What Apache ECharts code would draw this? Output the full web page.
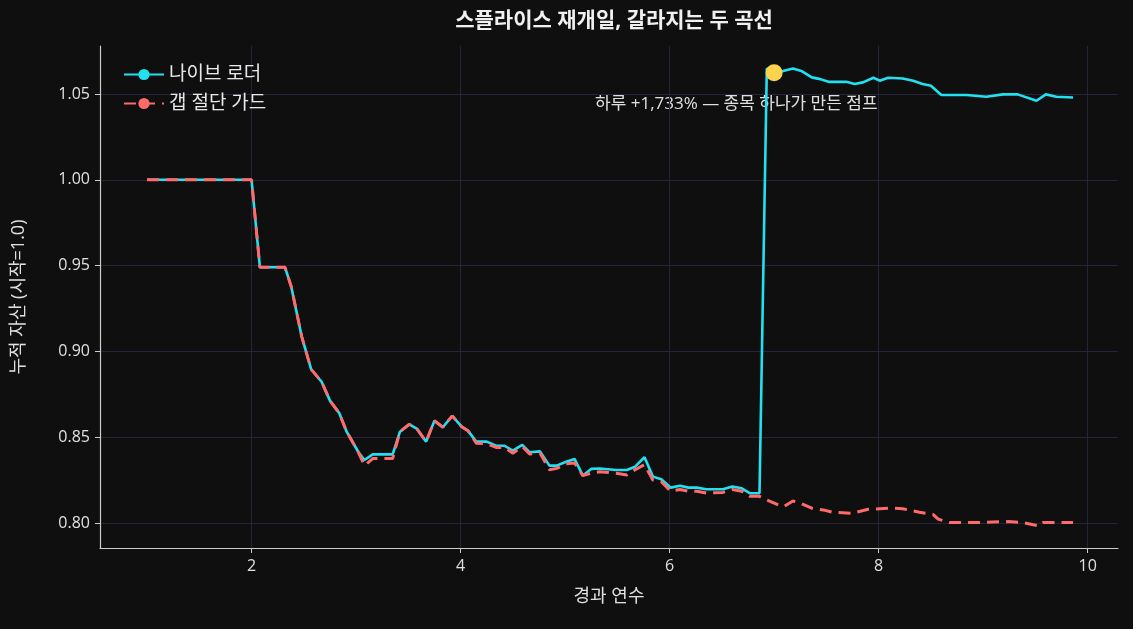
<!DOCTYPE html>
<html><head><meta charset="utf-8">
<script src="https://cdn.jsdelivr.net/npm/echarts@6/dist/echarts.min.js"></script>
<style>html,body{margin:0;background:#0f0f0f}#c{width:1133px;height:629px}</style>
</head><body><div id="c"></div>
<script>
const naiveX = [1.0,2.0,2.08,2.32,2.38,2.48,2.57,2.67,2.75,2.84,2.91,3.02,3.08,3.16,3.35,3.42,3.51,3.58,3.67,3.75,3.83,3.92,4.01,4.07,4.15,4.25,4.34,4.42,4.50,4.59,4.66,4.76,4.85,4.92,5.01,5.09,5.17,5.25,5.33,5.49,5.59,5.67,5.76,5.84,5.92,6.01,6.10,6.18,6.26,6.35,6.51,6.60,6.69,6.77,6.86,6.93,7.02,7.18,7.26,7.36,7.44,7.52,7.69,7.77,7.85,7.95,8.01,8.09,8.23,8.33,8.42,8.50,8.60,8.84,9.03,9.19,9.33,9.51,9.60,9.70,9.86];
const naiveY = [1.000,1.000,0.949,0.949,0.9377,0.9086,0.8896,0.8823,0.8713,0.8639,0.8532,0.8415,0.8367,0.840,0.840,0.8532,0.8575,0.855,0.8474,0.8596,0.8558,0.8624,0.8561,0.8538,0.8474,0.8474,0.845,0.845,0.8421,0.8455,0.8412,0.8417,0.8334,0.8334,0.8357,0.8373,0.8276,0.8315,0.8317,0.8309,0.8309,0.8328,0.8383,0.827,0.8255,0.8206,0.8217,0.8206,0.8206,0.8196,0.8196,0.8212,0.8202,0.8173,0.8173,1.0649,1.0624,1.0649,1.0635,1.0597,1.0587,1.0571,1.0571,1.0558,1.0568,1.0595,1.0578,1.0595,1.0591,1.0578,1.0558,1.0548,1.0494,1.0494,1.0484,1.0498,1.0498,1.0461,1.0498,1.0484,1.048];
const gapX = [1.0,2.0,2.08,2.32,2.38,2.48,2.57,2.67,2.75,2.84,2.91,3.02,3.08,3.16,3.35,3.42,3.51,3.58,3.67,3.75,3.83,3.92,4.01,4.07,4.15,4.25,4.34,4.42,4.50,4.59,4.66,4.76,4.85,4.92,5.01,5.09,5.17,5.25,5.33,5.49,5.59,5.67,5.76,5.84,5.92,6.01,6.10,6.18,6.26,6.35,6.51,6.60,6.69,6.77,6.86,6.93,7.04,7.09,7.18,7.24,7.36,7.47,7.56,7.75,7.90,8.12,8.23,8.39,8.52,8.57,8.68,8.90,9.24,9.38,9.53,9.57,9.86];
const gapY = [1.000,1.000,0.949,0.949,0.9377,0.9086,0.8896,0.8823,0.8713,0.8639,0.8532,0.8415,0.8335,0.8375,0.8375,0.8532,0.8575,0.855,0.8474,0.8596,0.8558,0.8624,0.8561,0.8538,0.8465,0.8462,0.844,0.844,0.8406,0.8445,0.8402,0.8407,0.831,0.8318,0.8345,0.835,0.8276,0.829,0.8298,0.829,0.828,0.831,0.834,0.825,0.824,0.8185,0.8195,0.8185,0.8185,0.8175,0.8178,0.8195,0.8185,0.8155,0.8155,0.8134,0.8105,0.8095,0.8128,0.8118,0.8086,0.8076,0.8062,0.8056,0.808,0.8086,0.8083,0.8062,0.805,0.8022,0.8002,0.8002,0.8008,0.8002,0.7983,0.8002,0.8002];
const jumpPoint = [7.0, 1.0624];
const xTicks = [2,4,6,8,10];
const yTicks = [0.80,0.85,0.90,0.95,1.00,1.05];
const names = ['나이브 로더','갭 절단 가드'];
const titleText = '스플라이스 재개일, 갈라지는 두 곡선';
const noteText = '하루 +1,733% — 종목 하나가 만든 점프';

const F = '"Open Sans","Noto Sans CJK KR",sans-serif';
const zip = (a,b)=>a.map((v,i)=>[v,b[i]]);
const chart = echarts.init(document.getElementById('c'));
chart.setOption({
  backgroundColor:'#0f0f0f',
  textStyle:{fontFamily:F},
  title:{text:titleText,left:609,top:6,textAlign:'center',textStyle:{color:'#f0f0f0',fontSize:21,fontWeight:'bold',fontFamily:F}},
  legend:{left:118,top:60,orient:'vertical',itemGap:10,itemWidth:40,itemHeight:14,
    textStyle:{color:'#e8e8e8',fontSize:19,fontFamily:F},data:names},
  grid:{left:100,right:15,top:46,bottom:81},
  xAxis:{type:'value',min:0.55,max:10.29,name:'경과 연수',nameLocation:'middle',nameGap:40,
    nameTextStyle:{color:'#e0e0e0',fontSize:18,fontFamily:F},
    axisLine:{lineStyle:{color:'#cccccc',width:1.2}},
    axisTick:{show:true,customValues:xTicks,length:5,lineStyle:{color:'#cccccc'}},
    axisLabel:{customValues:xTicks,color:'#e0e0e0',fontSize:16,margin:10},
    splitLine:{show:true,lineStyle:{color:'#25253a',width:1}}},
  yAxis:{type:'value',min:0.7854,max:1.078,name:'누적 자산 (시작=1.0)',nameLocation:'middle',nameGap:72,
    nameTextStyle:{color:'#e0e0e0',fontSize:18,fontFamily:F},
    axisLine:{show:true,lineStyle:{color:'#cccccc',width:1.2}},
    axisTick:{show:true,customValues:yTicks,length:5,lineStyle:{color:'#cccccc'}},
    axisLabel:{customValues:yTicks,color:'#e0e0e0',fontSize:16,margin:10,formatter:v=>v.toFixed(2)},
    splitLine:{show:true,lineStyle:{color:'#25253a',width:1}}},
  series:[
    {name:names[0],type:'line',data:zip(naiveX,naiveY),symbol:'none',
      lineStyle:{color:'#22e0f0',width:2.6},itemStyle:{color:'#22e0f0'},z:2},
    {name:names[1],type:'line',data:zip(gapX,gapY),symbol:'none',
      lineStyle:{color:'#ff6b6b',width:3,type:[12,7]},itemStyle:{color:'#ff6b6b'},z:3},
    {type:'scatter',data:[jumpPoint],symbolSize:17,itemStyle:{color:'#fcd34d',opacity:1},z:4},
  ],
  graphic:[{type:'text',left:595,top:96,style:{text:noteText,fill:'#e0e0e0',font:'17px '+F}}]
});
</script></body></html>
